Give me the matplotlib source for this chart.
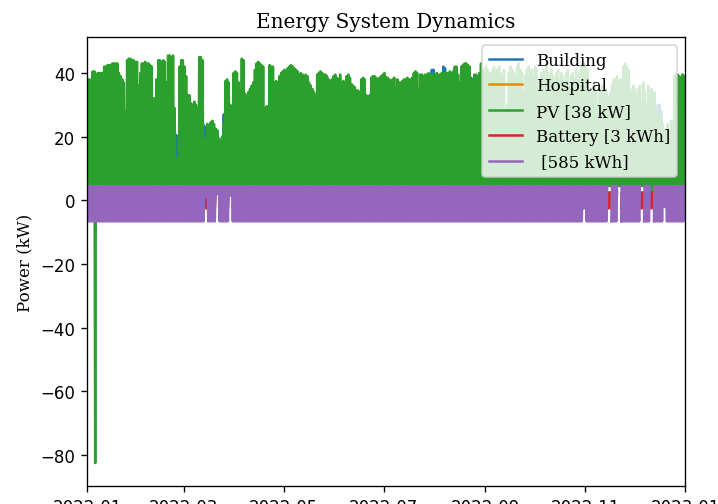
import numpy as np
import pandas as pd
import matplotlib
matplotlib.use("Agg")
import matplotlib.pyplot as plt
import matplotlib.dates as mdates

# ---------------- data (daily readings from the picture) ----------------
start = pd.Timestamp("2022-01-01")
end = pd.Timestamp("2023-01-01")

labels = ["Building", "Hospital", "PV [38 kW]", "Battery [3 kWh]", " [585 kWh]"]

# PV daily peak values (kW), one per day of 2022
pv_peak = [
    38, 38, 30, 40.5, 40.5, 34, 40, 40, 40, 40,
    42, 42, 42.5, 42.5, 42.5, 43, 43, 43, 43, 40,
    39, 38, 37, 28, 44, 44.5, 44.5, 44, 44, 43.5,
    43.5, 36, 40, 43, 43, 43.5, 43, 43, 42.5, 42,
    32, 32, 38, 44, 44, 43.5, 44, 43.5, 37, 45.5,
    45.5, 45, 45.5, 29, 13, 13, 42, 44, 44, 42,
    39, 33, 33, 30.5, 30, 31, 30, 29, 45, 45,
    44, 19, 19.5, 24, 22, 24.5, 25, 24, 22.5, 22,
    19.5, 19, 20, 24, 37.5, 38, 37, 30, 29.5, 40,
    40.5, 40, 37, 35, 44.5, 44, 33.5, 33, 34, 35,
    36, 37, 41, 43, 43.5, 43, 42.5, 42, 29, 29.5,
    29.5, 42.5, 42, 42, 37, 37.5, 37, 39, 40, 40.5,
    41, 22, 41.5, 42, 42.5, 42, 41.5, 41, 40.5, 39.5,
    40, 39.5, 39, 39.5, 39, 37, 36, 35, 34, 33,
    39.5, 40, 40.5, 40, 39.5, 39.5, 39, 38, 37.5, 38,
    39, 39.5, 38.5, 38, 39.5, 37, 37.5, 37, 39, 39.5,
    38.5, 36.5, 36, 35.5, 34.5, 34.5, 34, 38, 38.5, 38,
    33, 29, 33, 38.5, 39, 39, 38.5, 38, 38.5, 39,
    39.5, 40, 38.7, 38.5, 38, 34, 38, 38.5, 35, 38,
    37, 37, 37.5, 38, 38, 38.5, 38, 38, 38.5, 40,
    40.5, 40, 35, 39.5, 39.5, 39, 39.5, 39.5, 40, 39.5,
    39.5, 39.5, 39.5, 40, 39.5, 39.5, 40, 40, 40, 40,
    40, 40.5, 40, 40.5, 42, 42, 39.5, 37, 42, 42.5,
    43, 43, 42.5, 42, 37.5, 38, 39.5, 39.5, 39, 40,
    43, 41, 40, 42, 41, 40, 39, 41, 42, 40,
    41, 42, 40, 39, 41, 28, 30, 40, 42, 41,
    40, 39, 42, 43, 41, 40, 34, 39, 41, 42,
    40, 41, 39, 42, 41, 33, 38, 40, 41, 39,
    42, 40, 38, 41, 39, 35, 40, 41, 38, 40,
    39, 37, 40, 41, 36, 39, 40, 38, 41, 39,
    40, 42, 43, 43, 42, 41, 35, 33, 34, 36,
    34, 30, 33, 35, 36, 34, 35, 33, 31, 34,
    36, 38, 38, 39, 37, 38, 36, 42, 43, 42,
    41, 35, 34, 36, 35, 33, 35, 36, 31, 37,
    34, 30, 36, 33, 35, 32, 34, 29, 26, 25,
    27, 24, 22, 20, 24, 22, 25, 21, 39, 39.5,
    39.5, 39, 35, 39.5, 39,
]
pv_floor = 4.5
pv_low_override = {5: -82.5, 344: 1.0, 345: 1.0}

# Building: mostly hidden below PV, visible on a few days
building_floor = 5.0
building_base_peak = 12.0
building_peak_override = {54: 20.5, 55: 20, 71: 23.5, 72: 23, 83: 27,
                          210: 41, 211: 41, 217: 42, 218: 41.5, 234: 38.5,
                          348: 30, 349: 30, 350: 28}

# Hospital: fully hidden
hospital_floor = 5.0
hospital_peak = 10.0

# Battery power (kW)
battery_low = -2.5
battery_high = 2.5
battery_gap_days = [79, 80, 87, 88, 303, 304, 324, 325, 352, 353]

# Storage " [585 kWh]" power (kW)
store_low = -6.6
store_high = 4.5
store_gap_days = [318, 319, 324, 325, 338, 339, 344, 345]
store_low_override = {72: 1.0, 73: 1.0, 79: 2.0, 80: 2.0, 87: 1.5, 88: 1.5,
                      303: -2.5, 304: -2.5, 352: -2.0, 353: -2.0}

# ---------------- build daily min/max sequences ----------------
n = len(pv_peak)
days = np.arange(n)


def series(lows, highs):
    t = np.empty(2 * n)
    v = np.empty(2 * n)
    t[0::2] = days
    t[1::2] = days + 0.5
    v[0::2] = lows
    v[1::2] = highs
    return start + pd.to_timedelta(t, unit="D"), v


pv_lo = np.array([pv_low_override.get(d, pv_floor) for d in days], float)
pv_hi = np.array(pv_peak, float)

b_lo = np.full(n, building_floor)
b_hi = np.array([building_peak_override.get(d, building_base_peak) for d in days], float)

h_lo = np.full(n, hospital_floor)
h_hi = np.full(n, hospital_peak)

bat_lo = np.array([np.nan if d in battery_gap_days else battery_low for d in days])
bat_hi = np.array([np.nan if d in battery_gap_days else battery_high for d in days])

s_lo = np.array([np.nan if d in store_gap_days else store_low_override.get(d, store_low) for d in days])
s_hi = np.array([np.nan if d in store_gap_days else store_high for d in days])

# ---------------- plot ----------------
W, H, DPI = 718, 505, 120
fig = plt.figure(figsize=(W / DPI, H / DPI), dpi=DPI)
ax = fig.add_axes([87 / W, (H - 487) / H, 598 / W, 449 / H])

colors = ["#1f77b4", "#ff7f0e", "#2ca02c", "#d62728", "#9467bd"]
for (lo, hi), lab, c in zip([(b_lo, b_hi), (h_lo, h_hi), (pv_lo, pv_hi),
                             (bat_lo, bat_hi), (s_lo, s_hi)], labels, colors):
    t, v = series(lo, hi)
    ax.plot(t, v, color=c, label=lab, lw=1.5)

ax.set_xlim(start, end)
ax.set_ylim(-89.7, 51.3)
ax.xaxis.set_major_locator(mdates.MonthLocator(bymonth=[1, 3, 5, 7, 9, 11]))
ax.xaxis.set_major_formatter(mdates.DateFormatter("%Y-%m"))
ax.set_yticks([-80, -60, -40, -20, 0, 20, 40])

ax.set_title("Energy System Dynamics", family="serif", fontsize=12)
ax.set_ylabel("Power (kW)", family="serif")
ax.legend(loc="upper right", prop={"family": "serif", "size": 10})

fig.savefig("out.png", dpi=DPI)
